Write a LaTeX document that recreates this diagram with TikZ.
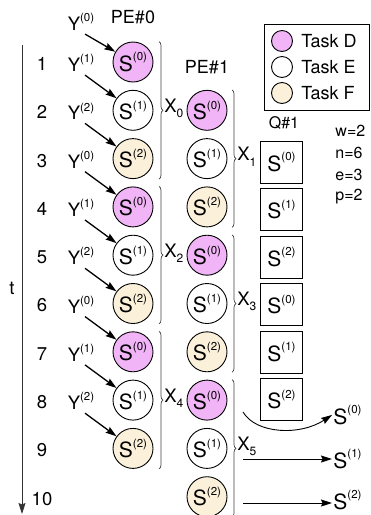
\documentclass[tikz,border=0pt]{standalone}
\usepackage{fontspec}
\setmainfont{TeX Gyre Heros}
\usetikzlibrary{arrows.meta,decorations.pathreplacing,positioning}
\definecolor{task0}{RGB}{241,180,246}
\definecolor{task1}{RGB}{255,255,255}
\definecolor{task2}{RGB}{251,241,218}
\newcommand\upidx[1]{\raisebox{.48em}{\fontsize{11.5}{11.5}\selectfont(#1)}}
\newcommand\dnidx[1]{\raisebox{-.3em}{\fontsize{12}{12}\selectfont#1}}

\begin{document}
\begin{tikzpicture}[x=1pt, y=-1pt, line width=0.9pt, >={Stealth[length=11pt,width=7pt,inset=1.5pt]}]
    \tikzset{
      sub/.style={draw, circle, minimum size=40pt, inner sep=0pt, font=\fontsize{21}{21}\selectfont},
      qbox/.style={draw, rectangle, minimum size=42pt, inner sep=0pt, font=\fontsize{21}{21}\selectfont},
      lbl/.style={inner sep=1pt, text=black, font=\fontsize{18.5}{18.5}\selectfont},
      par/.style={inner sep=1pt, anchor=west, font=\fontsize{16}{16}\selectfont},
      grp/.style={decorate, decoration={brace, amplitude=4pt}, line width=0.7pt, black!75},
      feed/.style={->, line width=1.3pt}
    }
    \useasboundingbox (0,0) rectangle (371,515);
    % time axis
    \coordinate (tstart) at (22,45);
    \coordinate (tend)   at (22,514);
    \draw[->, line width=0.8pt, black!80] (tstart) -- (tend);
    \node[lbl] (t) at (12,288) {t};
    \foreach \k in {1,...,10}
      \node[lbl] (row_\k) at (42,{64+48.3*(\k-1)}) {\k};
    % PE#0, PE#1 and Q#1
    \node[lbl, font=\fontsize{18}{18}\selectfont] (pe0) at (133,17) {PE\#0};
    \node[lbl, font=\fontsize{18}{18}\selectfont] (pe1) at (207,67) {PE\#1};
    \node[lbl, font=\fontsize{16}{16}\selectfont] (q1) at (284,123) {Q\#1};
    \foreach \k in {1,...,9} {
      \pgfmathtruncatemacro\m{mod(\k-1,3)}
      \node[sub, fill=task\m] (pe0_\k) at (133,{62+48.3*(\k-1)}) {S\upidx{\m}};
    }
    \foreach \k in {2,...,10} {
      \pgfmathtruncatemacro\m{mod(\k-2,3)}
      \node[sub, fill=task\m] (pe1_\k) at (207,{62+48.3*(\k-1)}) {S\upidx{\m}};
    }
    \foreach \k in {3,...,8} {
      \pgfmathtruncatemacro\m{mod(\k,3)}
      \node[qbox] (q1_\k) at (281.5,{162+47.5*(\k-3)}) {S\upidx{\m}};
    }
    % inputs
    \node[lbl] (y_0) at (81,22) {Y\upidx{0}};
    \foreach \k in {1,...,8} {
      \pgfmathtruncatemacro\m{mod(\k,3)}
      \node[lbl] (y_\k) at (81,{63+48.3*(\k-1)}) {Y\upidx{\m}};
    }
    \foreach \k in {0,...,8} {
      \pgfmathtruncatemacro\j{\k+1}
      \draw[feed] ([xshift=4pt,yshift=-2pt]y_\k.south) -- (pe0_\j);
    }
    % groups
    \foreach \a/\b/\x in {1/3/0, 4/6/2, 7/9/4}
      \draw[grp] ([xshift=26pt]pe0_\a.north) -- ([xshift=26pt]pe0_\b.south)
        node[lbl, midway, anchor=west, xshift=4pt, yshift=2pt] (x_\x) {X\dnidx{\x}};
    \foreach \a/\b/\x in {2/4/1, 5/7/3, 8/10/5}
      \draw[grp] ([xshift=25pt]pe1_\a.north) -- ([xshift=25pt]pe1_\b.south)
        node[lbl, midway, anchor=west, xshift=4pt, yshift=2pt] (x_\x) {X\dnidx{\x}};
    % outputs
    \node[anchor=base west, inner sep=1pt, font=\fontsize{21}{21}\selectfont] (out0) at (332,424) {S\upidx{0}};
    \node[anchor=base west, inner sep=1pt, font=\fontsize{21}{21}\selectfont] (out1) at (332,468) {S\upidx{1}};
    \node[anchor=base west, inner sep=1pt, font=\fontsize{21}{21}\selectfont] (out2) at (332,509) {S\upidx{2}};
    \coordinate (o0) at (243,412);
    \coordinate (o1) at (243,459);
    \coordinate (o2) at (243,503);
    \draw[->] (o0) .. controls (256,434) and (300,436) .. (out0.west);
    \draw[->] (o1) -- (o1 -| out1.west);
    \draw[->] (o2) -- (o2 -| out2.west);
    % legend
    \node[draw, minimum width=105pt, minimum height=86pt, inner sep=0pt] (legend) at (316.5,67) {};
    \node[draw, circle, minimum size=21pt, fill=task0] (key0) at (282,41) {};
    \node[draw, circle, minimum size=21pt, fill=task1] (key1) at (282,67) {};
    \node[draw, circle, minimum size=21pt, fill=task2] (key2) at (282,93) {};
    \node[lbl, right=7pt of key0, font=\fontsize{18}{18}\selectfont] (keytext0) {Task D};
    \node[lbl, right=7pt of key1, font=\fontsize{18}{18}\selectfont] (keytext1) {Task E};
    \node[lbl, right=7pt of key2, font=\fontsize{18}{18}\selectfont] (keytext2) {Task F};
    % parameters
    \node[par] (w) at (334,131) {w=2};
    \node[par] (n) at (334,153) {n=6};
    \node[par] (e) at (334,175) {e=3};
    \node[par] (p) at (334,197) {p=2};
\end{tikzpicture}
\end{document}
